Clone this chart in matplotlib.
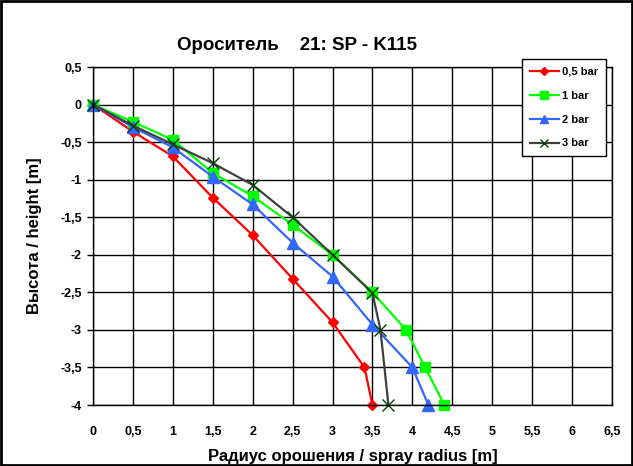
import matplotlib
matplotlib.use("Agg")
from matplotlib import pyplot
from matplotlib.patches import Rectangle

pyplot.rcParams['font.family'] = ['Liberation Sans', 'DejaVu Sans']
pyplot.rcParams['font.weight'] = 'bold'

# values
x05 = [0, 0.5, 1, 1.5, 2, 2.5, 3, 3.4, 3.5]
y05 = [0, -0.36, -0.69, -1.24, -1.74, -2.32, -2.9, -3.5, -4]
x1 = [0, 0.5, 1, 1.5, 2, 2.5, 3, 3.5, 3.92, 4.16, 4.4]
y1 = [0, -0.23, -0.47, -0.91, -1.22, -1.6, -2, -2.5, -3, -3.5, -4]
x2 = [0, 0.5, 1, 1.5, 2, 2.5, 3, 3.5, 4, 4.2]
y2 = [0, -0.3, -0.57, -0.96, -1.33, -1.84, -2.29, -2.93, -3.5, -4]
x3 = [0, 0.5, 1, 1.5, 2, 2.5, 3, 3.5, 3.6, 3.7]
y3 = [0, -0.28, -0.53, -0.78, -1.07, -1.5, -2, -2.51, -3, -4]

xticks = [0, 0.5, 1, 1.5, 2, 2.5, 3, 3.5, 4, 4.5, 5, 5.5, 6, 6.5]
yticks = [0.5, 0, -0.5, -1, -1.5, -2, -2.5, -3, -3.5, -4]


def lab(v):
    return ('%g' % v).replace('.', ',')


fig = pyplot.figure(figsize=(6.33, 4.66), dpi=100)
fig.patches.append(Rectangle((0.002, 0.002), 0.996, 0.996, transform=fig.transFigure,
                             fill=False, edgecolor='k', linewidth=2))
ax = fig.add_axes([93/633, 1 - 405/466, (612-93)/633, (405-67)/466])

ax.plot(x05, y05, color='#ff0000', marker='D', markersize=5, lw=1.6,
        clip_on=False, label='0,5 bar')
ax.plot(x1, y1, color='#00ff00', marker='s', markersize=7, lw=1.6,
        clip_on=False, label='1 bar')
ax.plot(x2, y2, color='#3366ff', marker='^', markersize=8, lw=1.6,
        clip_on=False, label='2 bar')
ax.plot(x3, y3, color='#404040', marker='x', markersize=8, mec='#004000',
        mew=1.0, lw=1.6, clip_on=False, label='3 bar')

ax.set_xlim(0, 6.5)
ax.set_ylim(-4, 0.5)
ax.set_xticks(xticks)
ax.set_xticklabels([lab(v) for v in xticks], fontsize=9, fontweight='bold',
                   va='baseline')
ax.set_yticks(yticks)
ax.set_yticklabels([lab(v) for v in yticks], fontsize=9, fontweight='bold')
ax.tick_params(axis='x', length=0, pad=21.5)
ax.tick_params(axis='y', direction='out', length=4, width=1, pad=4)
ax.grid(True, color='k', linewidth=1)
ax.set_axisbelow(True)
for s in ax.spines.values():
    s.set_linestyle((0, (2, 1)))
    s.set_linewidth(1)

ax.set_xlabel('Радиус орошения / spray radius [m]', fontsize=12, fontweight='bold', labelpad=8)
ax.set_ylabel('Высота / height [m]', fontsize=12, fontweight='bold', labelpad=13)
fig.text(297/633, 1 - 45/466, 'Ороситель    21: SP - K115', fontsize=13.5,
         fontweight='bold', ha='center', va='center')

leg = fig.legend(loc='upper left', bbox_to_anchor=(522/633, 1 - 59/466),
                 fontsize=8, frameon=True, fancybox=False, edgecolor='k',
                 framealpha=1, handlelength=2.6, labelspacing=1.25, borderpad=0.7,
                 handletextpad=0.3, markerscale=0.8, borderaxespad=0)
leg.get_frame().set_linewidth(1)
for t in leg.get_texts():
    t.set_fontweight('bold')

pyplot.savefig('out.png', dpi=100)
